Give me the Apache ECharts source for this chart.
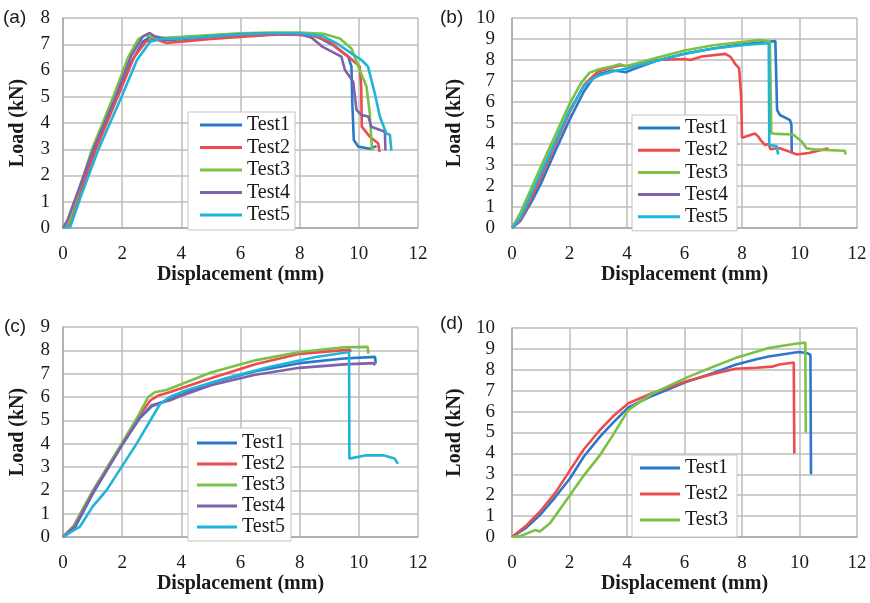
<!DOCTYPE html>
<html>
<head>
<meta charset="utf-8">
<script src="https://cdn.jsdelivr.net/npm/echarts@6/dist/echarts.min.js"></script>
<style>
  html, body { margin: 0; padding: 0; background: #fff; }
  #chart-container { width: 870px; height: 603px; }
</style>
</head>
<body>
<div id="chart-container"></div>
<script>
// load-displacement curves, [displacement mm, load kN]
var testNames = ['Test1', 'Test2', 'Test3', 'Test4', 'Test5'];
var xTicks = { min: 0, max: 12, interval: 2 };
var yMax = [8, 10, 9, 10];
var panelLabels = ['(a)', '(b)', '(c)', '(d)'];

var a_test1 = [[0,0],[0.2,0.2],[0.6,1.5],[1.08,2.97],[1.82,5.0],[2.3,6.3],[2.7,7.1],[2.95,7.28],[3.3,7.15],[3.6,7.15],[4,7.2],[5,7.28],[6,7.35],[7,7.38],[8,7.4],[8.5,7.35],[9.12,6.97],[9.64,6.53],[9.75,6.15],[9.78,4.75],[9.83,3.35],[9.98,3.1],[10.37,3.02],[10.6,3.12]];
var a_test2 = [[0,0],[0.2,0.15],[0.6,1.4],[1.1,2.97],[1.85,5.0],[2.4,6.5],[2.8,7.1],[3.1,7.2],[3.5,7.05],[4,7.1],[5,7.2],[6,7.28],[7,7.35],[7.5,7.37],[8,7.35],[8.5,7.3],[9,7.1],[9.64,6.53],[10.03,6.15],[10.08,5.4],[10.1,3.86],[10.37,3.48],[10.65,3.23],[10.7,2.9]];
var a_test3 = [[0,0],[0.2,0.25],[0.97,2.97],[1.7,5.0],[2.2,6.5],[2.55,7.2],[2.8,7.35],[3.1,7.25],[3.5,7.25],[4,7.28],[5,7.35],[6,7.42],[7,7.45],[8,7.45],[8.8,7.4],[9.36,7.22],[9.75,6.84],[10.03,6.02],[10.26,5.38],[10.37,4.37],[10.43,3.23],[10.45,2.95]];
var a_test4 = [[0,0],[0.15,0.3],[1.02,2.97],[1.78,5.0],[2.3,6.55],[2.7,7.3],[2.93,7.43],[3.1,7.3],[3.5,7.2],[4,7.2],[5,7.3],[6,7.38],[7,7.42],[8,7.4],[8.4,7.25],[8.78,6.9],[9.41,6.53],[9.53,6.02],[9.81,5.57],[9.92,4.5],[10.09,4.3],[10.32,4.25],[10.42,3.86],[10.88,3.67],[10.9,2.95]];
var a_test5 = [[0,0],[0.25,0.05],[0.6,1.2],[1.19,2.97],[1.98,5.0],[2.5,6.4],[2.95,7.1],[3.3,7.2],[4,7.22],[5,7.3],[6,7.37],[7,7.42],[8,7.42],[8.8,7.3],[9.3,7.0],[9.75,6.65],[10.09,6.4],[10.31,6.15],[10.54,5.13],[10.71,4.25],[10.93,3.6],[11.05,3.55],[11.1,2.95]];

var b_test1 = [[0,0],[0.3,0.35],[0.7,1.3],[1,2.1],[1.5,3.65],[2,5.15],[2.5,6.5],[2.8,7.1],[3.06,7.35],[3.5,7.5],[3.8,7.45],[3.95,7.42],[4.3,7.6],[5,7.95],[6,8.3],[7,8.55],[8,8.75],[8.8,8.85],[9.16,8.9],[9.2,8.87],[9.22,5.62],[9.32,5.38],[9.67,5.14],[9.72,4.9],[9.73,3.56]];
var b_test2 = [[0,0],[0.3,0.4],[0.7,1.5],[1,2.4],[1.5,3.95],[2,5.5],[2.5,6.8],[2.8,7.2],[3.0,7.45],[3.5,7.65],[3.8,7.75],[4,7.7],[5,8.0],[6,8.05],[6.2,8.0],[6.6,8.17],[7.42,8.29],[7.6,8.15],[7.77,7.8],[7.9,7.6],[7.97,6.3],[8.0,4.3],[8.45,4.5],[8.57,4.35],[8.64,4.2],[8.8,3.95],[8.93,4.0],[8.99,3.75],[9.28,3.81],[9.62,3.65],[9.91,3.5],[10.32,3.57],[11.01,3.8]];
var b_test3 = [[0,0],[0.3,0.75],[1,2.9],[1.5,4.4],[2,5.9],[2.4,6.9],[2.7,7.4],[3.0,7.55],[3.5,7.7],[3.75,7.8],[3.95,7.7],[4.5,7.9],[5,8.1],[6,8.45],[7,8.7],[8,8.85],[8.6,8.95],[8.97,8.9],[9.02,4.51],[9.2,4.48],[9.78,4.45],[10.08,4.11],[10.25,3.79],[10.6,3.73],[11.58,3.68],[11.6,3.5]];
var b_test4 = [];
var b_test5 = [[0,0],[0.3,0.5],[0.7,1.7],[1,2.6],[1.5,4.1],[2,5.6],[2.5,6.75],[2.8,7.1],[3.0,7.25],[3.5,7.45],[4,7.6],[5,7.95],[6,8.3],[7,8.55],[8,8.7],[8.86,8.8],[8.93,8.79],[8.95,3.95],[9.2,3.9],[9.26,3.5]];

var c_test1 = [[0,0],[0.4,0.4],[1.05,1.95],[2,3.95],[2.6,5.1],[3.0,5.6],[3.4,5.8],[4,6.1],[5,6.6],[6.5,7.1],[8,7.45],[9.5,7.65],[10.55,7.72],[10.57,7.43]];
var c_test2 = [[0,0],[0.35,0.45],[1.02,2.0],[2,4.0],[2.6,5.25],[2.95,5.85],[3.2,6.05],[3.6,6.2],[5,6.8],[6.5,7.4],[8,7.85],[9.7,8.03],[9.72,7.93]];
var c_test3 = [[0,0],[0.35,0.45],[1.02,2.0],[1.98,4.0],[2.5,5.1],[2.88,6.0],[3.1,6.2],[3.5,6.3],[5,7.05],[6.5,7.57],[8,7.93],[9.5,8.13],[10.3,8.15],[10.32,7.86]];
var c_test4 = [[0,0],[0.4,0.45],[1.05,2.0],[2,3.95],[2.6,5.15],[3.0,5.65],[3.3,5.75],[3.6,5.85],[4,6.05],[5,6.5],[6.5,6.95],[8,7.25],[9.5,7.4],[10.5,7.45],[10.55,7.36]];
var c_test5 = [[0,0],[0.57,0.44],[1.0,1.3],[1.47,2.0],[2.49,4.0],[3.0,5.1],[3.28,5.7],[3.6,6.0],[4.2,6.3],[5.5,6.8],[7,7.3],[8.5,7.7],[9.67,7.93],[9.68,3.36],[10.25,3.5],[10.82,3.5],[11.21,3.36],[11.32,3.14]];

var d_test1 = [[0,0],[0.5,0.45],[0.97,1.05],[1.5,1.9],[2.02,2.81],[2.5,3.85],[3.06,4.8],[3.5,5.45],[4.05,6.2],[4.87,6.75],[6.03,7.4],[7,7.85],[7.77,8.24],[8.5,8.5],[8.93,8.64],[9.97,8.85],[10.26,8.8],[10.38,8.72],[10.4,3.0]];
var d_test2 = [[0,0],[0.5,0.55],[0.97,1.21],[1.5,2.1],[2.02,3.2],[2.5,4.2],[3.06,5.12],[3.5,5.75],[3.77,6.08],[4.05,6.4],[4.87,6.88],[6.03,7.44],[7,7.8],[7.77,8.05],[8.5,8.1],[9.04,8.15],[9.3,8.25],[9.8,8.35],[9.82,4.0]];
var d_test3 = [[0,0],[0.3,0.05],[0.8,0.33],[0.97,0.26],[1.32,0.66],[1.6,1.2],[2.02,2.01],[2.5,2.95],[3.06,3.92],[3.5,4.85],[3.83,5.6],[4.05,6.08],[4.87,6.85],[6.03,7.6],[7,8.15],[7.77,8.56],[8.93,9.04],[9.86,9.25],[10.2,9.3],[10.22,5.0]];

var panelData = [
    [a_test1, a_test2, a_test3, a_test4, a_test5],
    [b_test1, b_test2, b_test3, b_test4, b_test5],
    [c_test1, c_test2, c_test3, c_test4, c_test5],
    [d_test1, d_test2, d_test3]
];

var colors = ['#2a78c9', '#ee4c4c', '#79c245', '#8062ab', '#1fb4da'];
var serif = '"Liberation Serif", "Times New Roman", serif';

var grids = [
    { left: 63, top: 18, width: 355, height: 210 },
    { left: 512, top: 18, width: 345, height: 210 },
    { left: 63, top: 327, width: 355, height: 210 },
    { left: 512, top: 328, width: 345, height: 209 }
];
var yLabelMargin = [13, 17, 13, 17];
var yNameGap = [35, 47, 35, 47];

var legendPos = [
    { left: 188, top: 112, itemGap: 2.5, padding: [3, 5, 5, 12], itemWidth: 42 },
    { left: 632, top: 115, itemGap: 2.2, padding: [3, 9, 4, 6], itemWidth: 42 },
    { left: 188, top: 428, itemGap: 1, padding: [5, 6, 4, 9], itemWidth: 40 },
    { left: 632, top: 455, itemGap: 6, padding: [3, 9, 7, 8], itemWidth: 40 }
];
var labelPos = [[3, 8], [440, 8], [4, 317], [440, 314]];

var xAxes = [], yAxes = [], series = [], legends = [], graphics = [];

grids.forEach(function (g, i) {
    xAxes.push({
        type: 'value', gridIndex: i,
        min: xTicks.min, max: xTicks.max, interval: xTicks.interval,
        name: 'Displacement (mm)', nameLocation: 'middle', nameGap: 34,
        nameTextStyle: { fontFamily: serif, fontWeight: 'bold', fontSize: 20, color: '#1a1a1a' },
        axisLine: { show: true, lineStyle: { color: '#a8a8a8', width: 1.5 } },
        axisTick: { show: false },
        axisLabel: { fontFamily: serif, fontSize: 19, color: '#1a1a1a', margin: 17 },
        splitLine: { show: true, lineStyle: { color: '#bdbdbd', width: 1.5 } }
    });
    yAxes.push({
        type: 'value', gridIndex: i,
        min: 0, max: yMax[i], interval: 1,
        name: 'Load (kN)', nameLocation: 'middle', nameGap: yNameGap[i], nameRotate: 90,
        nameTextStyle: { fontFamily: serif, fontWeight: 'bold', fontSize: 20, color: '#1a1a1a' },
        axisLine: { show: true, lineStyle: { color: '#a8a8a8', width: 1.5 } },
        axisTick: { show: false },
        axisLabel: { fontFamily: serif, fontSize: 19, color: '#1a1a1a', margin: yLabelMargin[i] },
        splitLine: { show: true, lineStyle: { color: '#bdbdbd', width: 1.5 } }
    });

    var names = [];
    panelData[i].forEach(function (d, k) {
        names.push(testNames[k]);
        series.push({
            type: 'line', name: testNames[k],
            xAxisIndex: i, yAxisIndex: i,
            data: d, showSymbol: false, symbol: 'none',
            lineStyle: { color: colors[k], width: 2.6 },
            itemStyle: { color: colors[k] }
        });
    });

    var lp = legendPos[i];
    legends.push({
        orient: 'vertical', left: lp.left, top: lp.top,
        data: names, icon: 'rect',
        itemWidth: lp.itemWidth, itemHeight: 3, itemGap: lp.itemGap,
        padding: lp.padding,
        backgroundColor: '#fff', borderColor: '#c4c4c4', borderWidth: 1,
        selectedMode: false,
        textStyle: { fontFamily: serif, fontSize: 20, color: '#1a1a1a', lineHeight: 20, padding: [0, 0, 0, 0] }
    });

    graphics.push({
        type: 'text', left: labelPos[i][0], top: labelPos[i][1],
        style: { text: panelLabels[i], font: '19px "Liberation Sans", Arial, sans-serif', fill: '#1a1a1a' }
    });
});

var myChart = echarts.init(document.getElementById('chart-container'), null, { renderer: 'canvas' });

option = {
    animation: false,
    backgroundColor: '#fff',
    grid: grids,
    xAxis: xAxes,
    yAxis: yAxes,
    legend: legends,
    graphic: graphics,
    series: series
};

myChart.setOption(option);
</script>
</body>
</html>
